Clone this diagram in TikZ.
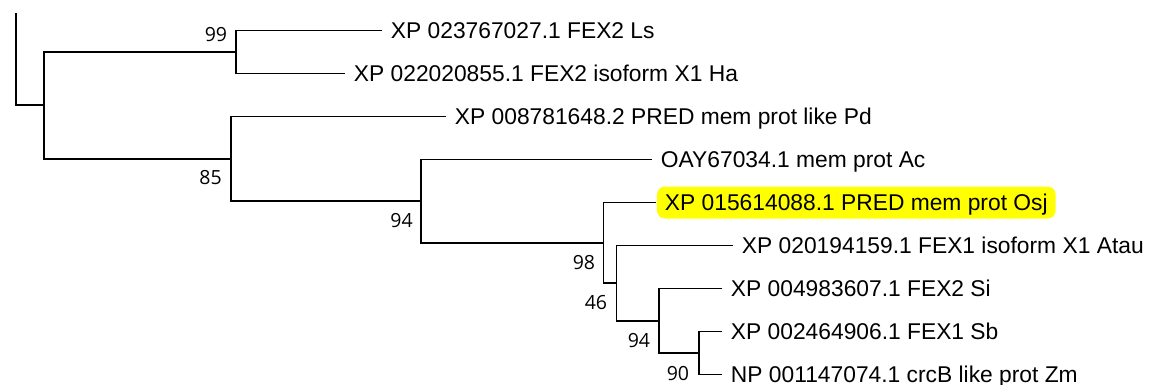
\documentclass[tikz,border=0pt]{standalone}
\usepackage{fontspec}
\setmainfont{Liberation Sans}
\newfontfamily\chiffres{Open Sans}
\usepackage{tikz}
\definecolor{jauneSurligne}{RGB}{255,255,0}

\begin{document}
\begin{tikzpicture}[x=1pt,y=-1pt,line width=1.9pt,
  feuille/.style={anchor=west,inner xsep=8pt,inner ysep=0pt,text height=16.3pt,
                  text depth=0pt,font=\fontsize{22.8}{26}\selectfont},
  support/.style={anchor=east,inner sep=0pt,text height=13.8pt,text depth=0pt,
                  font=\chiffres\fontsize{19.5}{22}\selectfont}]

  \useasboundingbox (0,0) rectangle (1153,385);

  % feuilles
  \node[feuille] (ls)   at (382,30.5)  {XP 023767027.1 FEX2 Ls};
  \node[feuille] (ha)   at (345,73.5)  {XP 022020855.1 FEX2 isoform X1 Ha};
  \node[feuille] (pd)   at (446,116.5) {XP 008781648.2 PRED mem prot like Pd};
  \node[feuille] (ac)   at (652,159.5) {OAY67034.1 mem prot Ac};
  \node[feuille,fill=jauneSurligne,rounded corners=8pt,minimum height=32pt] (osj)
    at (656,202.5) {XP 015614088.1 PRED mem prot Osj};
  \node[feuille] (atau) at (733,245.5) {XP 020194159.1 FEX1 isoform X1 Atau};
  \node[feuille] (si)   at (722,288.5) {XP 004983607.1 FEX2 Si};
  \node[feuille] (sb)   at (722,331.5) {XP 002464906.1 FEX1 Sb};
  \node[feuille] (zm)   at (722,374.5) {NP 001147074.1 crcB like prot Zm};

  % noeuds internes
  \coordinate (haut)   at (15.7,13);
  \coordinate (racine) at (15.7,105.4);
  \coordinate (nA)     at (44,105.4);
  \coordinate (n99)    at (236,52);
  \coordinate (n85)    at (230.7,158.7);
  \coordinate (n94a)   at (420.7,201);
  \coordinate (n98)    at (603.5,243);
  \coordinate (n46)    at (616.5,283);
  \coordinate (n94b)   at (659,321);
  \coordinate (n90)    at (699,353);

  % branches
  \draw (haut) -- (racine) -- (nA);
  \draw (n99) -| (nA) |- (n85);
  \draw (ls.west) -| (n99) |- (ha.west);
  \draw (pd.west) -| (n85) |- (n94a);
  \draw (ac.west) -| (n94a) |- (n98);
  \draw (osj.west) -| (n98) |- (n46);
  \draw (atau.west) -| (n46) |- (n94b);
  \draw (si.west) -| (n94b) |- (n90);
  \draw (sb.west) -| (n90) |- (zm.west);

  % valeurs de bootstrap
  \node[support] (b99)  at (228,35)    {99};
  \node[support] (b85)  at (222.7,178) {85};
  \node[support] (b94a) at (413.7,220.5) {94};
  \node[support] (b98)  at (596,263)   {98};
  \node[support] (b46)  at (608,302.5) {46};
  \node[support] (b94b) at (651,340.5) {94};
  \node[support] (b90)  at (690,373.5) {90};
\end{tikzpicture}
\end{document}
